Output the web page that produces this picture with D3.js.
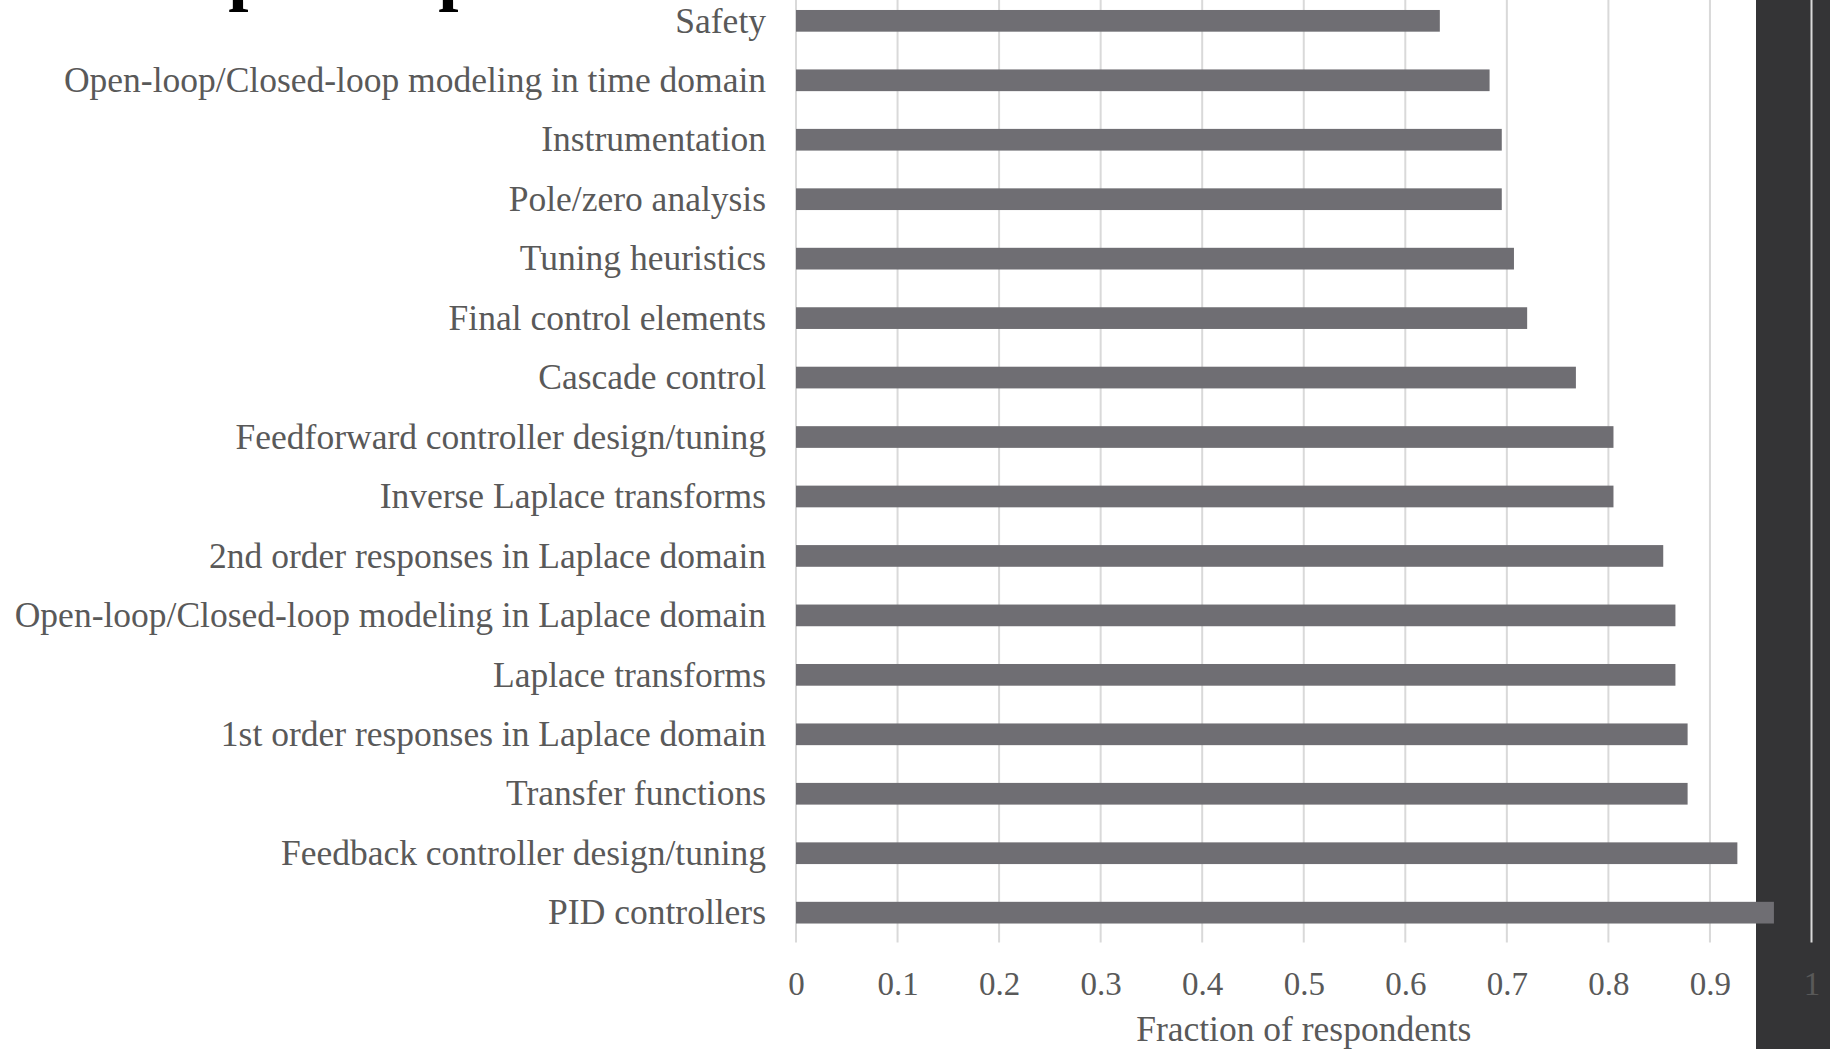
<!DOCTYPE html>
<html>
<head>
<meta charset="utf-8">
<script src="https://cdn.jsdelivr.net/npm/d3@7"></script>
<style>
  html, body { margin: 0; padding: 0; background: #ffffff; overflow: hidden; }
  svg { display: block; }
  text { font-family: "Liberation Serif", "DejaVu Serif", serif; }
</style>
</head>
<body>
<svg id="chart" width="1830" height="1049"></svg>
<script>
// Topics, listed top to bottom as drawn
const topics = [
  "Safety",
  "Open-loop/Closed-loop modeling in time domain",
  "Instrumentation",
  "Pole/zero analysis",
  "Tuning heuristics",
  "Final control elements",
  "Cascade control",
  "Feedforward controller design/tuning",
  "Inverse Laplace transforms",
  "2nd order responses in Laplace domain",
  "Open-loop/Closed-loop modeling in Laplace domain",
  "Laplace transforms",
  "1st order responses in Laplace domain",
  "Transfer functions",
  "Feedback controller design/tuning",
  "PID controllers"
];

// Fraction of respondents per topic (same order as topics)
const fractions = [
  0.634, 0.683, 0.695, 0.695, 0.707, 0.720, 0.768, 0.805,
  0.805, 0.854, 0.866, 0.866, 0.878, 0.878, 0.927, 0.963
];

// Value axis ticks
const xTicks = [0, 0.1, 0.2, 0.3, 0.4, 0.5, 0.6, 0.7, 0.8, 0.9, 1];

const titleText = "Top 16 topics";
const xAxisTitle = "Fraction of respondents";

const W = 1830, H = 1049;
const plot = { left: 796, right: 1811.5, top: -8.9, bottom: 942.4 };

const svg = d3.select("#chart");

// page background and dark side panel
svg.append("rect").attr("x", 0).attr("y", 0).attr("width", W).attr("height", H).attr("fill", "#ffffff");
svg.append("rect").attr("x", 1756).attr("y", 0).attr("width", W - 1756).attr("height", H).attr("fill", "#343436");

const x = d3.scaleLinear().domain([0, 1]).range([plot.left, plot.right]);
const y = d3.scaleBand()
  .domain(topics)
  .range([plot.top, plot.bottom])
  .paddingInner(0.635)
  .paddingOuter(0.3175);

// slide title, scrolled almost entirely above the visible area
svg.append("text")
  .attr("x", 150)
  .attr("y", -2.8)
  .attr("font-size", 72.7)
  .attr("font-weight", "bold")
  .attr("fill", "#000000")
  .text(titleText);

// vertical gridlines
svg.append("g")
  .selectAll("line")
  .data(xTicks)
  .join("line")
  .attr("x1", d => x(d))
  .attr("x2", d => x(d))
  .attr("y1", plot.top)
  .attr("y2", plot.bottom)
  .attr("stroke", "#d9d9d9")
  .attr("stroke-width", 2);

// bars
svg.append("g")
  .selectAll("rect")
  .data(topics.map((t, i) => ({ topic: t, value: fractions[i] })))
  .join("rect")
  .attr("x", x(0))
  .attr("y", d => y(d.topic))
  .attr("width", d => x(d.value) - x(0))
  .attr("height", y.bandwidth())
  .attr("fill", "#6f6e73");

// category axis
const yAxis = svg.append("g")
  .attr("transform", `translate(${plot.left},0)`)
  .call(d3.axisLeft(y).tickSize(0).tickPadding(30));
yAxis.select(".domain").remove();
yAxis.selectAll("text")
  .attr("font-family", "Liberation Serif, DejaVu Serif, serif")
  .attr("font-size", 35.5)
  .attr("fill", "#595959")
  .attr("dy", "0.33em");

// value axis
const xAxis = svg.append("g")
  .attr("transform", `translate(0,${plot.bottom})`)
  .call(d3.axisBottom(x).tickValues(xTicks).tickFormat(d3.format(".1~f")).tickSize(0));
xAxis.select(".domain").remove();
xAxis.selectAll("text")
  .attr("font-family", "Liberation Serif, DejaVu Serif, serif")
  .attr("font-size", 33)
  .attr("fill", "#595959")
  .attr("y", 52.6)
  .attr("dy", 0);

// value axis title
svg.append("text")
  .attr("x", (plot.left + plot.right) / 2)
  .attr("y", 1041)
  .attr("text-anchor", "middle")
  .attr("font-size", 35.5)
  .attr("fill", "#595959")
  .text(xAxisTitle);
</script>
</body>
</html>
